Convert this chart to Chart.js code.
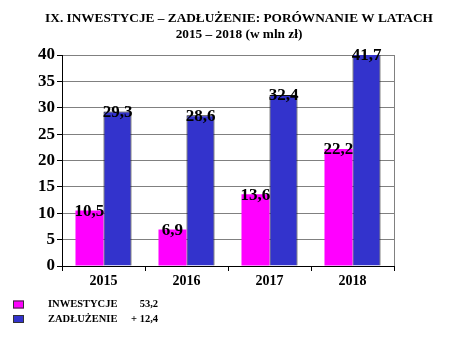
<!DOCTYPE html>
<html><head><meta charset="utf-8">
<script src="https://cdn.jsdelivr.net/npm/chart.js@4/dist/chart.umd.min.js"></script>
<style>html,body{margin:0;padding:0;background:#fff;}#wrap{width:474px;height:355px;}</style>
</head><body><div id="wrap"><canvas id="c" width="474" height="355"></canvas></div>
<script>
const categories = ['2015', '2016', '2017', '2018'];
const inwestycje = [10.5, 6.9, 13.6, 22.2];
const zadluzenie = [29.3, 28.6, 32.4, 41.7];
const seriesNames = ['INWESTYCJE', 'ZADŁUŻENIE'];
const legendValues = ['53,2', '+ 12,4'];
const titleLines = ['IX. INWESTYCJE – ZADŁUŻENIE: PORÓWNANIE W LATACH', '2015 – 2018 (w mln zł)'];
const PINK = '#FF00FF', BLUE = '#3333CC';
const SERIF = '"Liberation Serif", "Times New Roman", serif';

const fmt = v => String(v).replace('.', ',');

const labelPlugin = {
  id: 'labels',
  afterDatasetsDraw(chart) {
    const ctx = chart.ctx;
    const y = chart.scales.y;
    ctx.save();
    // title
    ctx.fillStyle = '#000';
    ctx.textAlign = 'center';
    ctx.textBaseline = 'middle';
    ctx.font = 'bold 13.3px ' + SERIF;
    ctx.fillText(titleLines[0], 239, 19);
    ctx.fillText(titleLines[1], 239, 35);
    // data labels
    ctx.font = 'bold 17px ' + SERIF;
    chart.data.datasets.forEach((ds, di) => {
      const meta = chart.getDatasetMeta(di);
      meta.data.forEach((bar, i) => {
        const v = Math.min(ds.data[i], y.max);
        ctx.fillText(fmt(ds.data[i]), bar.x, y.getPixelForValue(v) + 1);
      });
    });
    // plot frame right side
    const a = chart.chartArea;
    ctx.strokeStyle = '#808080';
    ctx.lineWidth = 1;
    ctx.beginPath();
    ctx.moveTo(a.right + 0.5, a.top);
    ctx.lineTo(a.right + 0.5, a.bottom);
    ctx.stroke();
    // legend
    const colors = [PINK, BLUE];
    ctx.font = 'bold 10.5px ' + SERIF;
    [0, 1].forEach(k => {
      const yy = 304.5 + k * 14.5;
      ctx.fillStyle = colors[k];
      ctx.fillRect(13, yy - 4, 11, 8);
      ctx.strokeStyle = '#333';
      ctx.strokeRect(13.5, yy - 3.5, 10, 7);
      ctx.fillStyle = '#000';
      ctx.textAlign = 'left';
      ctx.fillText(seriesNames[k], 48, yy);
      ctx.textAlign = 'right';
      ctx.fillText(legendValues[k], 158, yy);
    });
    ctx.restore();
  }
};

new Chart(document.getElementById('c'), {
  type: 'bar',
  data: {
    labels: categories,
    datasets: [
      { label: seriesNames[0], data: inwestycje, backgroundColor: PINK, borderWidth: 0 },
      { label: seriesNames[1], data: zadluzenie, backgroundColor: BLUE, borderColor: '#111', borderWidth: 1 }
    ]
  },
  options: {
    responsive: false,
    animation: false,
    layout: { padding: { left: 0, right: 80, top: 55, bottom: 65 } },
    datasets: { bar: { categoryPercentage: 0.675, barPercentage: 1.0 } },
    plugins: {
      legend: { display: false },
      tooltip: { enabled: false },
      title: { display: false }
    },
    scales: {
      x: {
        grid: { drawOnChartArea: false, drawTicks: true, tickLength: 5, offset: true, color: '#000' },
        border: { color: '#000', width: 1 },
        ticks: { color: '#000', font: { family: SERIF, size: 14, weight: 'bold' }, padding: 2 },
        afterFit: s => { s.height = 24; }
      },
      y: {
        min: 0, max: 40,
        ticks: { stepSize: 5, color: '#000', font: { family: SERIF, size: 17, weight: 'bold' }, padding: 2 },
        grid: { color: '#808080', tickColor: '#000', tickLength: 5 },
        border: { color: '#000', width: 1 },
        afterFit: s => { s.width = 62; }
      }
    }
  },
  plugins: [labelPlugin]
});
</script>
</body></html>
